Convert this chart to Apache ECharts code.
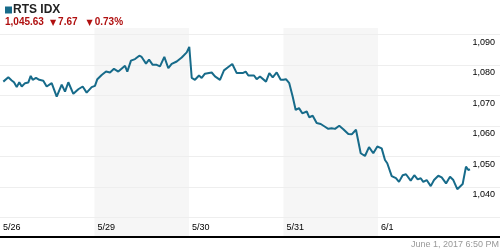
<!DOCTYPE html>
<html>
<head>
<meta charset="utf-8">
<script src="https://cdn.jsdelivr.net/npm/echarts@6/dist/echarts.min.js"></script>
<style>html,body{margin:0;padding:0;background:#fff}#c{width:500px;height:250px}</style>
</head>
<body>
<div id="c"></div>
<script>
// ---- data ----
const seriesName = 'RTS IDX';
const lastPrice = '1,045.63';
const change = '7.67';
const changePct = '0.73%';
const stamp = 'June 1, 2017 6:50 PM';
const dayLabels = ['5/26', '5/29', '5/30', '5/31', '6/1'];
const shadedDays = [1, 3];
// session position in trading days (0 = start of 5/26)
const times = [0.035,0.088,0.124,0.148,0.177,0.204,0.230,0.265,0.299,0.325,0.346,0.381,0.416,0.458,0.494,0.547,0.600,0.653,0.688,0.723,0.776,0.829,0.875,0.917,0.970,
1.005,1.030,1.076,1.122,1.164,1.206,1.252,1.323,1.347,1.386,1.429,1.474,1.499,1.545,1.577,1.616,1.658,1.693,1.739,1.781,1.817,1.870,1.923,1.976,2.003,
2.029,2.063,2.106,2.134,2.169,2.240,2.275,2.328,2.370,2.416,2.458,2.505,2.568,2.600,2.628,2.646,2.688,2.716,2.751,2.815,2.850,2.886,2.928,2.970,2.998,
3.026,3.061,3.097,3.129,3.164,3.199,3.246,3.273,3.309,3.351,3.394,3.439,3.474,3.510,3.545,3.590,3.633,3.686,3.722,3.767,3.817,3.862,3.905,3.950,3.993,
4.039,4.074,4.098,4.145,4.190,4.222,4.261,4.296,4.346,4.384,4.420,4.452,4.479,4.515,4.558,4.593,4.638,4.674,4.720,4.762,4.797,4.839,4.896,4.931,4.956,4.974];
const values = [1074.6,1076.0,1075.0,1074.4,1072.8,1074.4,1073.0,1074.1,1074.3,1076.5,1075.2,1075.8,1075.2,1074.9,1073.0,1074.1,1069.7,1073.6,1071.3,1074.4,1070.6,1072.1,1073.0,1071.0,1072.8,
1073.2,1075.4,1076.8,1077.9,1077.6,1078.8,1077.9,1079.8,1077.9,1081.5,1082.0,1083.1,1082.7,1080.5,1081.8,1080.1,1080.1,1079.6,1082.7,1079.0,1080.4,1081.2,1082.5,1084.2,1086.0,
1075.8,1075.2,1076.6,1075.8,1077.2,1077.6,1076.3,1075.2,1078.3,1079.4,1080.4,1077.4,1077.4,1077.9,1076.6,1077.2,1076.6,1075.4,1076.3,1074.6,1077.4,1076.0,1077.6,1075.2,1075.2,
1075.4,1074.1,1069.7,1065.3,1065.9,1064.2,1064.8,1062.9,1063.4,1061.0,1060.7,1059.8,1059.1,1059.3,1059.1,1060.1,1059.0,1057.4,1057.3,1058.8,1051.1,1050.2,1053.1,1051.1,1053.3,
1052.7,1048.9,1047.8,1043.6,1042.9,1041.7,1043.9,1044.2,1042.1,1043.9,1042.5,1042.9,1041.7,1042.3,1040.3,1042.3,1043.7,1043.2,1041.2,1043.4,1042.3,1039.3,1041.0,1046.7,1045.6,1045.8];
const yMin = 1020, yMax = 1092.2, yStep = 10, firstLabeled = 1040;
const baseValue = 1023.7;

// ---- chart ----
const FONT = 'Liberation Sans, Arial, sans-serif';
const lineColor = '#176b8a';
const red = '#b01010';
const chart = echarts.init(document.getElementById('c'), null, {renderer: 'canvas'});
const points = times.map((t, i) => [t, values[i]]);
chart.setOption({
  animation: false,
  title: [{
    left: 5, top: 4, padding: 0,
    text: '{sq|}{t|' + seriesName + '}',
    textStyle: {rich: {
      sq: {width: 7, height: 7, backgroundColor: lineColor},
      t: {fontFamily: FONT, fontWeight: 'bold', fontSize: 12, color: '#222', padding: [0, 0, 0, 1], lineHeight: 12}
    }}
  }, {
    left: 5, top: 17, padding: 0,
    text: '{v|' + lastPrice + '}{a|▼}{v|' + change + '}{b|▼}{v|' + changePct + '}',
    textStyle: {rich: {
      v: {fontFamily: FONT, fontSize: 10, color: red, lineHeight: 11},
      a: {fontFamily: 'DejaVu Sans', fontSize: 8, color: red, padding: [0, 2, 0, 6], lineHeight: 11},
      b: {fontFamily: 'DejaVu Sans', fontSize: 8, color: red, padding: [0, 2, 0, 9], lineHeight: 11}
    }}
  }],
  grid: {left: 0, right: 0, top: 28, bottom: 2, containLabel: false},
  xAxis: {
    type: 'value', min: 0, max: 500 / 94.5, interval: 1, z: 10,
    axisLine: {show: false}, axisTick: {show: false}, splitLine: {show: false},
    axisLabel: {
      inside: true, margin: 16, align: 'left', padding: [0, 0, 0, 3],
      showMaxLabel: false, hideOverlap: false,
      fontFamily: FONT, fontSize: 9, color: '#000',
      formatter: v => dayLabels[Math.round(v)] || ''
    }
  },
  yAxis: {
    type: 'value', position: 'right', min: yMin, max: yMax, interval: yStep, z: 10,
    axisLine: {show: false}, axisTick: {show: false},
    splitLine: {show: true, showMinLine: false, showMaxLine: false, lineStyle: {color: '#eeeeee', width: 1}},
    axisLabel: {
      inside: true, margin: 5, verticalAlign: 'top', padding: [3, 0, 0, 0],
      showMaxLabel: false,
      fontFamily: FONT, fontSize: 9, color: '#000',
      formatter: v => v >= firstLabeled ? v.toLocaleString('en-US') : ''
    }
  },
  series: [{
    type: 'line', data: [], z: 1, silent: true,
    markArea: {
      silent: true, itemStyle: {color: '#f6f6f6'},
      data: shadedDays.map(d => [{xAxis: d, yAxis: baseValue}, {xAxis: d + 1, yAxis: yMax}])
    }
  }, {
    type: 'line', data: points, showSymbol: false, symbol: 'none',
    lineStyle: {color: lineColor, width: 2}, z: 20,
    markLine: {
      silent: true, symbol: 'none', label: {show: false},
      lineStyle: {color: '#000', width: 2, type: 'solid'},
      data: [{yAxis: baseValue}]
    }
  }],
  graphic: [{
    type: 'text', right: 1, bottom: 1,
    style: {text: stamp, fill: '#999', font: '9px ' + FONT}
  }]
});
</script>
</body>
</html>
